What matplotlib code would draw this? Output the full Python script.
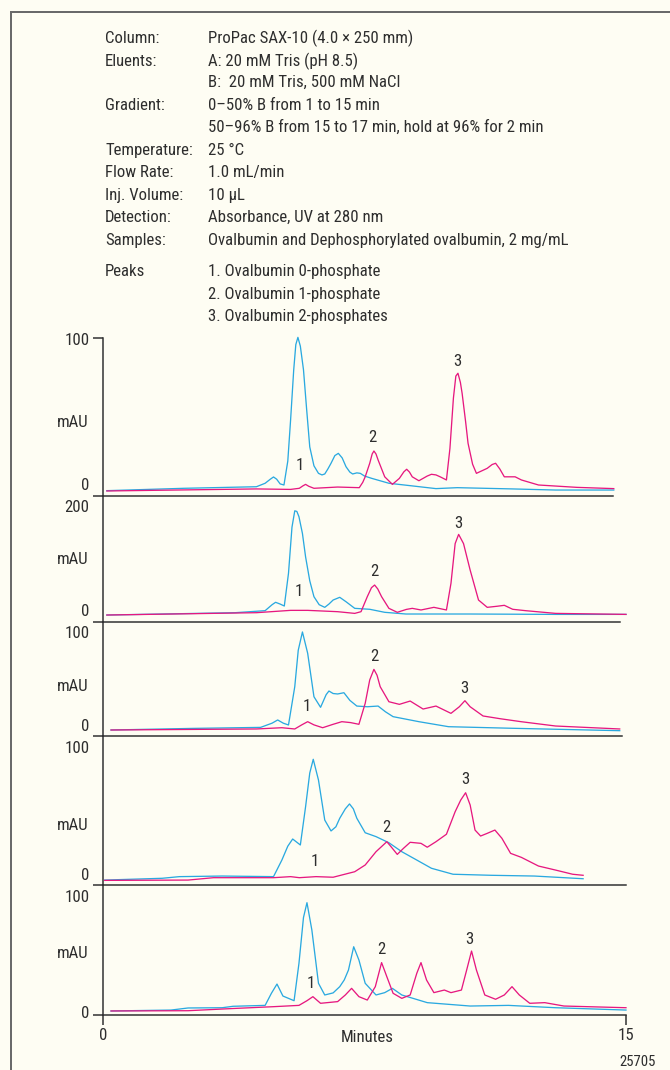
import matplotlib
matplotlib.use('Agg')
import matplotlib.pyplot as plt
from matplotlib.lines import Line2D
from matplotlib import font_manager
from matplotlib.textpath import TextPath
from matplotlib.font_manager import FontProperties

W, H = 670, 1070
BG = '#fefdf3'
BLUE = '#2aa9e0'
PINK = '#e6187f'
INK = '#2e2e2e'

# conditions block
cond_names = ['Column:', 'Eluents:', '', 'Gradient:', '', 'Temperature:',
              'Flow Rate:', 'Inj. Volume:', 'Detection:', 'Samples:',
              'Peaks', '', '']
cond_values = ['ProPac SAX-10 (4.0 \u00d7 250 mm)',
               'A: 20 mM Tris (pH 8.5)',
               'B:  20 mM Tris, 500 mM NaCl',
               '0\u201350% B from 1 to 15 min',
               '50\u201396% B from 15 to 17 min, hold at 96% for 2 min',
               '25 \u00b0C',
               '1.0 mL/min',
               '10 \u00b5L',
               'Absorbance, UV at 280 nm',
               'Ovalbumin and Dephosphorylated ovalbumin, 2 mg/mL',
               '1. Ovalbumin 0-phosphate',
               '2. Ovalbumin 1-phosphate',
               '3. Ovalbumin 2-phosphates']

y_tops = [100, 200, 100, 100, 100]
peak_names = ['1', '2', '3']

# panel 1
p1_blue_t = [0.11, 2.32, 4.40, 4.65, 4.80, 4.89, 4.98, 5.08, 5.19, 5.30, 5.38, 5.47, 5.53, 5.59,
             5.66, 5.75, 5.84, 5.93, 6.05, 6.18, 6.28, 6.36, 6.45, 6.54, 6.65, 6.75, 6.86,
             6.97, 7.08, 7.16, 7.28, 7.38, 7.50, 7.71, 8.20, 8.80, 9.55, 10.16, 11.75,
             12.98, 14.65]
p1_blue_y = [3.2, 4.7, 5.7, 7.9, 10.5, 11.9, 10.5, 7.5, 6.8, 22, 48, 80, 96, 100.6,
             95, 80, 55, 31, 19, 14.2, 13.2, 13.8, 17, 20.6, 25.5, 26.9, 24,
             18.4, 15, 13.8, 14.5, 14.2, 12.5, 11, 7.9, 6.4, 4.5, 5.1, 4.3,
             3.6, 3.6]
p1_pink_t = [0.11, 4.40, 5.38, 5.63, 5.73, 5.81, 5.90, 6.05, 6.73, 7.35, 7.45, 7.52, 7.65,
             7.72, 7.77, 7.83, 7.89, 8.08, 8.30, 8.50, 8.63, 8.71, 8.79, 8.87, 9.06, 9.30,
             9.42, 9.55, 9.67, 9.85, 9.95, 10.05, 10.12, 10.18, 10.25, 10.30, 10.40, 10.47,
             10.60, 10.71, 11.02, 11.16, 11.26, 11.38, 11.51, 11.82, 12.00, 12.49, 13.59, 14.65]
p1_pink_y = [3.0, 4.3, 4.0, 4.7, 6.2, 7.2, 6.0, 4.7, 5.5, 5.1, 8.5, 12, 20.6,
             26.5, 28.4, 26.5, 22.7, 12, 7.2, 11, 15.2, 16.8, 15, 12, 9.5, 12.5,
             13.6, 13.2, 12, 10, 30, 62, 76, 77.8, 72, 65, 47, 33.3,
             20, 14.2, 17.4, 19.8, 20.6, 17, 12, 12, 10, 6.8, 5.3, 4.5]

# panel 2
p2_blue_t = [0.11, 3.79, 4.65, 4.85, 4.95, 5.08, 5.20, 5.32, 5.42, 5.50, 5.56, 5.62, 5.72,
             5.81, 5.93, 6.05, 6.20, 6.36, 6.48, 6.60, 6.79, 6.97, 7.22, 7.65, 8.08, 8.69,
             10.53, 12.98, 15.0]
p2_blue_y = [10.6, 14.3, 17.5, 27, 30.8, 28, 24.9, 76.8, 150, 176, 175, 166.7, 140,
             103, 65, 39.7, 27, 22.8, 28, 34.4, 38.7, 31.7, 21.2, 19.7, 14.9, 12.2,
             12.2, 11.6, 11.6]
p2_pink_t = [0.11, 4.40, 5.38, 5.87, 6.73, 7.22, 7.40, 7.58, 7.70, 7.79, 7.88, 7.99, 8.20,
             8.44, 8.70, 8.87, 9.12, 9.49, 9.85, 9.98, 10.10, 10.20, 10.34, 10.53, 10.77,
             11.02, 11.30, 11.51, 11.75, 12.12, 12.98, 15.0]
p2_pink_y = [10.6, 14.3, 18, 18, 15.9, 13.2, 15.9, 39.7, 54, 58.2, 52, 39.7, 21.2,
             14.9, 19.5, 21.2, 18.6, 22.8, 18.6, 60.9, 124, 138.6, 124, 82, 34.4,
             22.8, 24.5, 26, 19.7, 17.5, 13.2, 11.6]

# panel 3
p3_blue_t = [0.23, 2.56, 4.52, 4.85, 5.01, 5.17, 5.32, 5.50, 5.60, 5.72, 5.87, 6.05, 6.24,
             6.40, 6.48, 6.60, 6.73, 6.91, 7.08, 7.28, 7.58, 7.89, 8.10, 8.32, 9.06, 9.91,
             11.75, 14.82]
p3_blue_y = [5, 6.4, 7.3, 11, 13.8, 11, 9.4, 43, 75, 91, 72.3, 34.2, 24.9,
             36, 39.2, 37, 36.6, 37.7, 31, 26, 25.4, 26, 21, 16.7, 12.3, 7.9,
             6.5, 4.4]
p3_pink_t = [0.23, 4.40, 5.13, 5.50, 5.70, 5.87, 6.05, 6.30, 6.60, 6.85, 7.10, 7.34, 7.52,
             7.65, 7.77, 7.86, 7.95, 8.20, 8.50, 8.81, 9.18, 9.55, 9.98, 10.22, 10.38,
             10.53, 10.90, 11.39, 11.99, 12.98, 14.82]
p3_pink_y = [5, 5.9, 7, 5.9, 9.5, 12.3, 9.5, 7, 10, 12.3, 11.5, 10, 28.4,
             48.9, 58.2, 53, 43, 29.8, 27.5, 30.4, 23.4, 26, 19.6, 25.4, 30.7,
             25.4, 17.3, 14.9, 12.3, 8.5, 5.9]

# panel 4
p4_blue_t = [0.05, 1.70, 2.19, 3.42, 4.89, 5.13, 5.30, 5.44, 5.66, 5.81, 5.93, 6.03, 6.18,
             6.36, 6.54, 6.68, 6.79, 6.95, 7.07, 7.18, 7.28, 7.52, 7.83, 8.20, 8.57, 9.00,
             9.42, 10.04, 11.14, 12.37, 13.77]
p4_blue_y = [3.3, 4.5, 5.6, 6, 5.6, 16.7, 26, 30.8, 26.8, 52.4, 75, 84.2, 70.3,
             43.5, 36.2, 39, 44.7, 51, 54.3, 51, 44.7, 35, 32.4, 28.3, 22.3, 16.7,
             11.2, 7.2, 6.5, 6, 4.2]
p4_pink_t = [0.05, 2.44, 3.17, 4.89, 5.38, 5.63, 6.11, 6.60, 6.85, 7.22, 7.52, 7.83, 8.14,
             8.26, 8.44, 8.62, 8.81, 9.12, 9.30, 9.55, 9.85, 10.10, 10.26, 10.40, 10.53,
             10.67, 10.83, 11.02, 11.24, 11.44, 11.69, 12.00, 12.49, 12.98, 13.47, 13.77]
p4_pink_y = [3.1, 3.3, 4.9, 4.9, 5.6, 4.9, 5.6, 5.2, 6.7, 8.9, 13.4, 22.3, 29,
             25.7, 20.5, 24.6, 28.6, 27.9, 25.3, 29, 34, 49.1, 56.9, 61.8, 53.6,
             36.8, 32.8, 34.6, 36.8, 31.3, 21.2, 18.5, 12.7, 10, 7.2, 6.5]

# panel 5
p5_blue_t = [0.23, 1.95, 2.44, 3.42, 3.73, 4.65, 4.83, 4.99, 5.16, 5.48, 5.62, 5.75, 5.85,
             5.99, 6.18, 6.36, 6.60, 6.79, 6.92, 7.04, 7.19, 7.34, 7.52, 7.83, 8.08, 8.30,
             8.57, 9.30, 10.53, 11.63, 12.98, 15.0]
p5_blue_y = [3.1, 3.8, 5.4, 5.6, 6.7, 7.4, 16.7, 23.8, 14.6, 11, 39.7, 75, 86.4,
             65.4, 24.4, 15.4, 17, 21.8, 27, 34.6, 52.5, 42.3, 24.4, 15.4, 17.2, 20.5,
             15.4, 9.5, 6.9, 7.4, 5.6, 3.8]
p5_pink_t = [0.23, 2.44, 3.66, 4.89, 5.62, 5.85, 6.02, 6.24, 6.73, 6.95, 7.13, 7.34, 7.58,
             7.81, 7.99, 8.14, 8.32, 8.57, 8.81, 9.00, 9.12, 9.28, 9.49, 9.79, 9.98, 10.28,
             10.43, 10.57, 10.71, 10.95, 11.26, 11.51, 11.73, 11.94, 12.24, 12.67, 13.22, 15.0]
p5_pink_y = [3.1, 3.3, 4.9, 6.4, 7.4, 11, 14.1, 9, 10.3, 15.4, 20.5, 14.1, 11.5,
             21.8, 40.3, 29.5, 16.7, 12.8, 15.4, 32.1, 40.3, 26.9, 17.2, 19.2, 17.2, 19.2,
             34.6, 49.2, 34.6, 15.4, 12.1, 15.4, 21.8, 15.4, 9, 9.5, 6.9, 5.6]

blue_t = [p1_blue_t, p2_blue_t, p3_blue_t, p4_blue_t, p5_blue_t]
blue_y = [p1_blue_y, p2_blue_y, p3_blue_y, p4_blue_y, p5_blue_y]
pink_t = [p1_pink_t, p2_pink_t, p3_pink_t, p4_pink_t, p5_pink_t]
pink_y = [p1_pink_y, p2_pink_y, p3_pink_y, p4_pink_y, p5_pink_y]

# where the peak numbers sit (minutes, mAU)
peak_label_pos = [
    [(5.65, 19.1), (7.73, 37.1), (10.15, 85.1)],
    [(5.62, 47.6), (7.77, 79.4), (10.18, 156)],
    [(5.84, 25.4), (7.77, 69.3), (10.37, 41.6)],
    [(6.08, 15.6), (8.14, 38.6), (10.40, 70.8)],
    [(5.97, 24.4), (7.99, 50.0), (10.52, 58.2)],
]


def pick_condensed():
    # look for a narrow face, the reference uses a condensed grotesque
    wanted = ['Liberation Sans Narrow', 'Roboto Condensed', 'Open Sans Condensed',
              'Noto Sans Condensed']
    fl = font_manager.fontManager.ttflist
    for name in wanted:
        for f in fl:
            if f.name == name and f.style == 'normal' and str(f.weight) in ('400', 'normal', 'regular'):
                return f.name, 'normal'
    for f in fl:
        if f.name == 'DejaVu Sans' and 'condensed' in str(f.stretch) and f.style == 'normal' \
                and str(f.weight) in ('400', 'normal', 'regular'):
            return 'DejaVu Sans', 'condensed'
    return 'Liberation Sans', 'normal'


fam, stretch = pick_condensed()
plt.rcParams['font.family'] = [fam, 'DejaVu Sans']
plt.rcParams['font.stretch'] = stretch

# size the type so the longest line spans what it does in the reference (~360 px)
probe = TextPath((0, 0), cond_values[9], size=10, prop=FontProperties())
FS = min(18.0, 10 * 360 / probe.get_extents().width)

# layout in pixels
panel_px = [(338.3, 495.7), (495.7, 621.7), (621.7, 735.7), (735.7, 885), (885, 1015)]
spine_end = [14.62, 14.83, 14.88, 15.0, 15.0]
top_dy = [-2, -12, -12, -13, -12]
zero_dy = [10.5, 10, 9, 10, 1]
mau_frac = [0.464, 0.49, 0.43, 0.40, 0.475]
x0_px, x15_px = 103, 626

fig = plt.figure(figsize=(W / 72, H / 72), dpi=72)
fig.patch.set_facecolor(BG)

# frame
fig.add_artist(Line2D([11 / W, 1], [1 - 12 / H, 1 - 12 / H], transform=fig.transFigure,
                      color='#6a6a6a', lw=2))
fig.add_artist(Line2D([11 / W, 11 / W], [0, 1 - 12 / H], transform=fig.transFigure,
                      color='#6a6a6a', lw=2))

# conditions text
row_y = [38.3, 61, 82.7, 106, 127.7, 150.7, 172.7, 195.3, 217.7, 240, 271.7, 294.3, 316]
for name, val, yy in zip(cond_names, cond_values, row_y):
    fig.text(105 / W, 1 - yy / H, name, fontsize=FS, color=INK, va='center', ha='left')
    fig.text(208 / W, 1 - yy / H, val, fontsize=FS, color=INK, va='center', ha='left')

axes = []
for i, (top_px, bot_px) in enumerate(panel_px):
    ax = fig.add_axes([x0_px / W, 1 - bot_px / H, (x15_px - x0_px) / W, (bot_px - top_px) / H])
    ax.set_facecolor('none')
    ax.set_xlim(0, 15)
    ax.set_ylim(0, y_tops[i])
    ax.plot(blue_t[i], blue_y[i], color=BLUE, lw=1.3, clip_on=False, zorder=3)
    ax.plot(pink_t[i], pink_y[i], color=PINK, lw=1.3, clip_on=False, zorder=4)
    for s in ['top', 'right']:
        ax.spines[s].set_visible(False)
    for s in ['left', 'bottom']:
        ax.spines[s].set_color(INK)
        ax.spines[s].set_linewidth(1.5)
    ax.spines['bottom'].set_bounds(0, spine_end[i])
    if i == 0:
        ax.set_yticks([0, y_tops[i]])
    else:
        ax.set_yticks([0])
    ax.set_yticklabels([])
    ax.tick_params(axis='y', direction='out', length=10, width=1.5, color=INK)
    # y labels
    ax.annotate(str(y_tops[i]), xy=(0, y_tops[i]), xycoords=('axes fraction', 'data'),
                xytext=(-13.5, top_dy[i]), textcoords='offset points',
                ha='right', va='center', fontsize=FS, color=INK)
    ax.annotate('0', xy=(0, 0), xycoords=('axes fraction', 'data'),
                xytext=(-13.5, zero_dy[i]), textcoords='offset points',
                ha='right', va='center', fontsize=FS, color=INK)
    ax.annotate('mAU', xy=(0, mau_frac[i]), xycoords='axes fraction',
                xytext=(-14.5, 0), textcoords='offset points',
                ha='right', va='center', fontsize=FS, color=INK)
    for name, (px, py) in zip(peak_names, peak_label_pos[i]):
        ax.text(px, py, name, ha='center', va='center', fontsize=FS, color=INK)
    if i == 4:
        ax.set_xticks([0, 15])
        ax.set_xticklabels(['0', '15'], fontsize=FS, color=INK)
        ax.tick_params(axis='x', direction='out', length=10, width=1.5, color=INK, pad=3)
    else:
        ax.set_xticks([])
    axes.append(ax)

fig.text(367 / W, 1 - 1037 / H, 'Minutes', fontsize=FS, color=INK, ha='center', va='center')
fig.text(656 / W, 1 - 1061.7 / H, '25705', fontsize=FS * 0.88, color=INK, ha='right', va='center')

fig.savefig('out.png', dpi=72, facecolor=BG)
